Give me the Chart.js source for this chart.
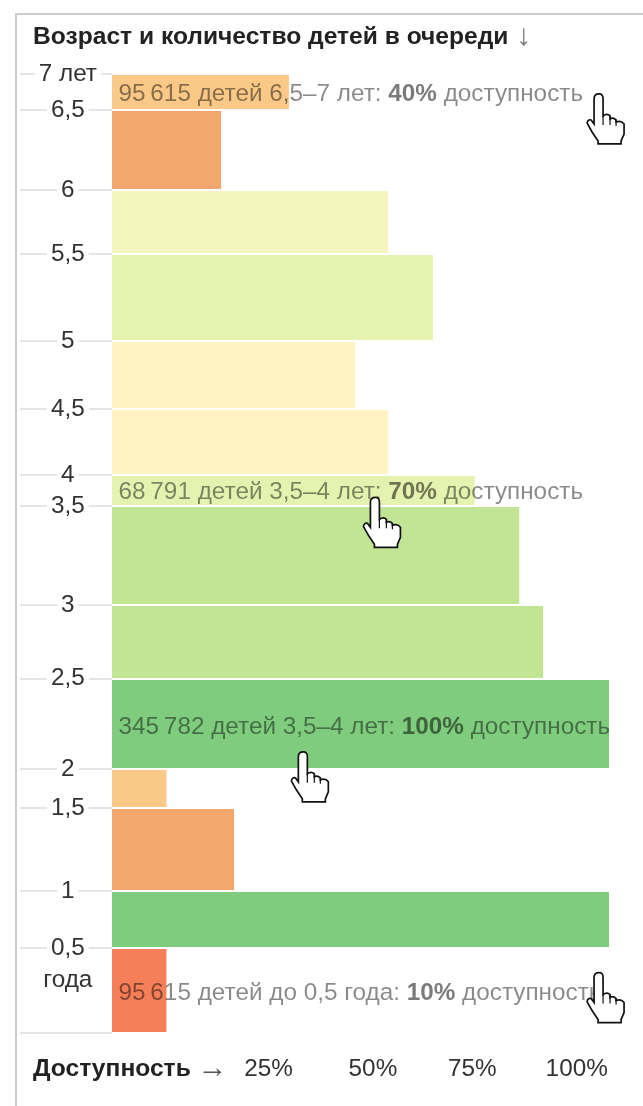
<!DOCTYPE html>
<html><head><meta charset="utf-8">
<script src="https://cdn.jsdelivr.net/npm/chart.js@4/dist/chart.umd.min.js"></script>
<style>
html,body{margin:0;padding:0;background:#fff;width:643px;height:1106px;overflow:hidden}
#frame{position:absolute;left:15px;top:13px;width:640px;height:1100px;border-left:2px solid #ccc;border-top:2px solid #ccc}
#wrap{position:absolute;left:0;top:0;width:643px;height:1106px;filter:blur(.6px)}
</style></head><body>
<div id="frame"></div>
<div id="wrap"><canvas id="c" width="643" height="1106"></canvas></div>
<script>
const titleText = 'Возраст и количество детей в очереди';
const axisText = 'Доступность';
const ageLabels = ['', '0,5', '1', '1,5', '2', '2,5', '3', '3,5', '4', '4,5', '5', '5,5', '6', '6,5', '7 лет'];
const bandChildren = [326, 219, 319, 150, 346, 284, 380, 119, 253, 261, 334, 246, 307, 138];
const availability = [11, 100, 24.6, 11, 100, 86.8, 82, 73, 55.6, 49, 64.6, 55.6, 22, 35.6];
const bandColors = ['#f47f58', '#7fcc7e', '#f4a76c', '#fbc987', '#7fcc7e', '#c1e594', '#c1e594', '#e5f2b0', '#fff3c4', '#fff3c4', '#e5f2b0', '#f4f5bf', '#f4a76c', '#fbc987'];
const unitLabel = 'года';
const unitLabelValue = 204;
const xTickValues = [31.5, 52.5, 72.5, 93.5];
const xTickLabels = ['25%', '50%', '75%', '100%'];
const noteBands = [13, 7, 4, 0];
const noteLead = ['95\u2009615 детей 6,5–7 лет: ', '68\u2009791 детей 3,5–4 лет: ', '345\u2009782 детей 3,5–4 лет: ', '95\u2009615 детей до 0,5 года: '];
const noteBold = ['40%', '70%', '100%', '10%'];
const noteTail = ' доступность';
const handX = [98, 53, 38.5, 98];

const edges = [0];
bandChildren.forEach(v => edges.push(edges[edges.length - 1] + v));
const FONT = '"Liberation Sans", Arial, sans-serif';
const SIZE = 24.3;
const datasets = bandChildren.map((v, i) => ({
  type: 'line',
  data: [{x: 0, y: edges[i + 1]}, {x: availability[i], y: edges[i + 1]}],
  fill: {target: {value: edges[i]}},
  backgroundColor: bandColors[i],
  borderWidth: 0, pointRadius: 0, tension: 0
}));
const handPath = new Path2D('M-5 5Q-5 0 0 0Q4 0 4 5V22Q8 19 11 22V25Q14 23 17 26V28Q22 26 25 30V40L22 47V50H-1V47L-7 38L-12 29Q-11 25-8 26L-5 30Z');
const handLines = new Path2D('M11 22V31M17 26V32M4 22V31');

const overlay = {
  id: 'overlay',
  afterDraw(chart) {
    const {ctx, scales: {x, y}} = chart;
    ctx.save();
    ctx.textBaseline = 'middle';
    noteBands.forEach((b, i) => {
      const cy = y.getPixelForValue((edges[b] + edges[b + 1]) / 2);
      let px = x.getPixelForValue(1.3);
      const ty = cy + [2, 2, 3, 3][i];
      const parts = [[noteLead[i], SIZE + 'px', 'rgba(0,0,0,.46)'], [noteBold[i], 'bold ' + SIZE + 'px', 'rgba(0,0,0,.52)'], [noteTail, SIZE + 'px', 'rgba(0,0,0,.46)']];
      parts.forEach(([t, f, col]) => {
        ctx.font = f + ' ' + FONT;
        ctx.fillStyle = col;
        ctx.textAlign = 'left';
        ctx.fillText(t, px, ty);
        px += ctx.measureText(t).width;
      });
      ctx.save();
      const hy = cy + [2, 7, 28, -18][i];
      ctx.translate(x.getPixelForValue(handX[i]), hy);
      ctx.fillStyle = '#fff';
      ctx.strokeStyle = '#111';
      ctx.lineWidth = 1.7;
      ctx.fill(handPath);
      ctx.stroke(handPath);
      ctx.lineWidth = 1.2;
      ctx.stroke(handLines);
      ctx.restore();
    });
    ctx.textAlign = 'left';
    ctx.fillStyle = '#222';
    ctx.font = 'bold 24.6px ' + FONT;
    ctx.fillText(titleText, 33, 37);
    const tw = ctx.measureText(titleText + ' ').width;
    ctx.fillStyle = '#777';
    ctx.font = '30px ' + FONT;
    ctx.fillText('↓', 33 + tw + 1, 37);
    ctx.fillStyle = '#222';
    ctx.font = 'bold 24.6px ' + FONT;
    ctx.fillText(axisText, 33, 1069);
    const aw = ctx.measureText(axisText + ' ').width;
    ctx.fillStyle = '#555';
    ctx.font = '30px ' + FONT;
    ctx.fillText('→', 33 + aw, 1069);
    ctx.restore();
  }
};

new Chart(document.getElementById('c'), {
  type: 'line',
  data: {datasets},
  plugins: [overlay],
  options: {
    responsive: false, animation: false,
    layout: {padding: {left: 20, right: 34, top: 74, bottom: 0}},
    plugins: {legend: {display: false}, tooltip: {enabled: false}, title: {display: false}},
    scales: {
      x: {
        type: 'linear', min: 0, max: 100,
        afterBuildTicks(s) { s.ticks = xTickValues.map(value => ({value})); },
        afterFit(s) { s.height = 73; },
        grid: {display: false}, border: {display: false},
        ticks: {
          autoSkip: false, maxRotation: 0, padding: 14,
          color: '#333', font: {family: FONT, size: SIZE},
          callback: (v) => xTickLabels[xTickValues.indexOf(v)]
        }
      },
      y: {
        type: 'linear', min: 0, max: edges[edges.length - 1],
        afterBuildTicks(s) { s.ticks = edges.concat(unitLabelValue).map(value => ({value})); },
        afterFit(s) { s.width = 92; },
        border: {display: false},
        grid: {
          z: 1, tickLength: 92, lineWidth: 2, tickWidth: 1.6,
          color: c => c.tick && c.tick.value === unitLabelValue ? 'transparent' : '#fff',
          tickColor: c => c.tick && c.tick.value === unitLabelValue ? 'transparent' : '#ddd'
        },
        ticks: {
          z: 2, autoSkip: false, crossAlign: 'center', padding: -77,
          color: '#333', font: {family: FONT, size: SIZE},
          showLabelBackdrop: true, backdropColor: c => c.tick && c.tick.value === 0 ? 'transparent' : '#fff', backdropPadding: {left: 4, right: 4, top: 0, bottom: 0},
          callback: (v) => v === unitLabelValue ? unitLabel : ageLabels[edges.indexOf(v)]
        }
      }
    }
  }
});
</script>
</body></html>
